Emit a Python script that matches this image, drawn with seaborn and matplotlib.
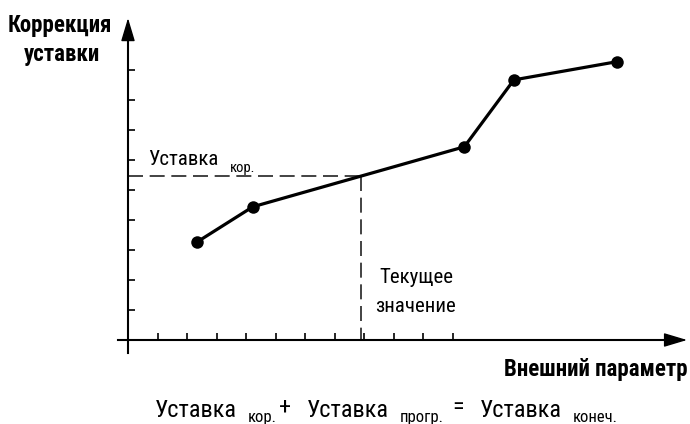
import numpy as np
import matplotlib
matplotlib.use("Agg")
import matplotlib.pyplot as plt
import seaborn as sns

# Nodes of the correction curve: external parameter -> setpoint correction
param = [2.33, 4.23, 11.40, 13.08, 16.59]
correction = [3.26, 4.44, 6.44, 8.67, 9.28]
current_value = 7.89
x_ticks = list(range(1, 12))
y_ticks = list(range(1, 10))

sns.set_theme(style="white")
plt.rcParams["font.family"] = ["Roboto Condensed", "Fira Sans Condensed", "DejaVu Sans"]
plt.rcParams["text.color"] = "black"

W, H = 690, 424
fig = plt.figure(figsize=(W / 100, H / 100), dpi=100)
ax = fig.add_axes([0, 0, 1, 1])
ax.set_facecolor("white")
ax.set_xlim(-128 / 29.5, (W - 128) / 29.5)
ax.set_ylim(-(H - 340) / 30, 340 / 30)

# Correction obtained for the current value of the external parameter
setpoint = np.interp(current_value, param, correction)
dash_kw = dict(color="#222222", lw=1.2, dashes=(9, 4), zorder=2)
ax.plot([0, current_value], [setpoint, setpoint], **dash_kw)
ax.plot([current_value, current_value], [setpoint, 0], **dash_kw)

sns.lineplot(x=param, y=correction, ax=ax, color="black", lw=2.3,
             marker="o", markersize=9, markeredgewidth=0, zorder=5)

# Axes through the origin with arrow heads
for side in ("top", "right"):
    ax.spines[side].set_visible(False)
ax.spines["left"].set_position(("data", 0))
ax.spines["bottom"].set_position(("data", 0))
ax.spines["left"].set_bounds(-0.43, 10.2)
ax.spines["bottom"].set_bounds(-0.34, 18.3)
for side in ("left", "bottom"):
    ax.spines[side].set_color("black")
    ax.spines[side].set_linewidth(1.5)
ax.set_xticks(x_ticks)
ax.set_yticks(y_ticks)
ax.tick_params(direction="in", length=5, width=1.2, color="black",
               bottom=True, left=True, labelbottom=False, labelleft=False)
arrow = dict(arrowstyle="-|>,head_length=0.4,head_width=0.12",
             mutation_scale=36, color="black", lw=1.0, shrinkA=0, shrinkB=0)
ax.annotate("", xy=(18.95, 0), xytext=(18.0, 0), arrowprops=arrow)
ax.annotate("", xy=(0, 10.73), xytext=(0, 10.0), arrowprops=arrow)


def px(x, y):
    return x / W, 1 - y / H


fig.text(*px(60, 32), "Коррекция", ha="center", va="baseline",
         fontsize=16.5, fontweight="bold")
fig.text(*px(62, 61), "уставки", ha="center", va="baseline",
         fontsize=16.5, fontweight="bold")
fig.text(*px(148, 165), "Уставка", ha="left", va="baseline", fontsize=15)
fig.text(*px(230, 172), "кор.", ha="left", va="baseline", fontsize=10.5)
fig.text(*px(416, 283), "Текущее", ha="center", va="baseline", fontsize=15)
fig.text(*px(416, 312), "значение", ha="center", va="baseline", fontsize=15)
fig.text(*px(688, 376), "Внешний параметр", ha="right", va="baseline",
         fontsize=16.5, fontweight="bold")

formula = [
    (155, 417, "Уставка", 17.5), (248, 422, "кор.", 12), (279, 414, "+", 17.5),
    (307, 417, "Уставка", 17.5), (400, 422, "прогр.", 12), (452, 414, "=", 17.5),
    (480, 417, "Уставка", 17.5), (573, 422, "конеч.", 12),
]
for x, y, s, fs in formula:
    fig.text(*px(x, y), s, ha="left", va="baseline", fontsize=fs)

fig.savefig("out.png", dpi=100, facecolor="white")
